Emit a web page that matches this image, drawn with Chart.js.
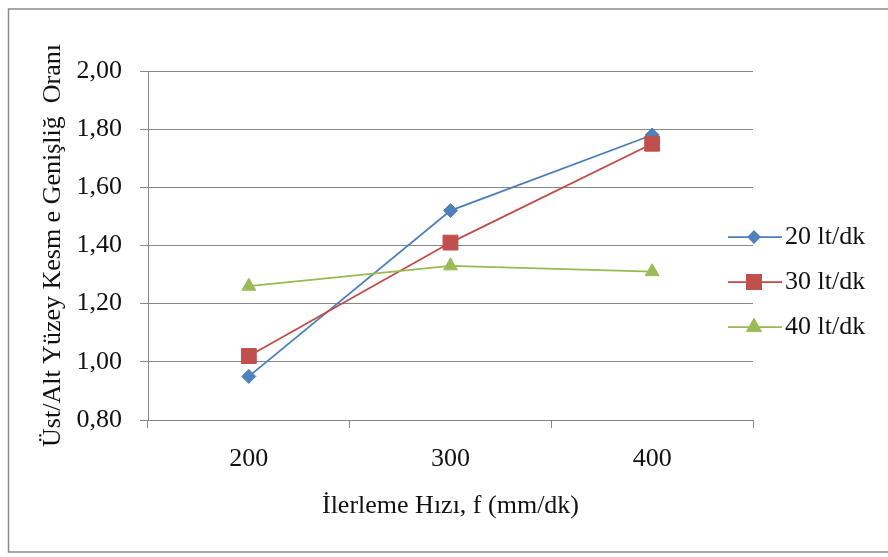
<!DOCTYPE html>
<html>
<head>
<meta charset="utf-8">
<script src="https://cdn.jsdelivr.net/npm/chart.js@4/dist/chart.umd.min.js"></script>
<style>
  html, body { margin: 0; padding: 0; background: #ffffff; }
  #wrap { width: 888px; height: 557px; }
</style>
</head>
<body>
<div id="wrap"><canvas id="c" width="888" height="557"></canvas></div>
<script>
// Feed rate categories (mm/dk)
const feedRates = ['200', '300', '400'];

// Top/bottom kerf width ratio per coolant flow
const flow20 = [0.95, 1.52, 1.78];
const flow30 = [1.02, 1.41, 1.75];
const flow40 = [1.26, 1.33, 1.31];

const seriesNames = ['20 lt/dk', '30 lt/dk', '40 lt/dk'];
const yTickLabels = ['0,80', '1,00', '1,20', '1,40', '1,60', '1,80', '2,00'];

const xTitle = 'İlerleme Hızı, f (mm/dk)';
const yTitle = 'Üst/Alt Yüzey Kesm e Genişliğ  Oranı';

const FONT = "'Liberation Serif', 'Times New Roman', serif";
const GRID = '#878787';

const styles = [
  { line: '#4A7EBB', fill: '#4F81BD', shape: 'rectRot', r: 7 },
  { line: '#BE4B48', fill: '#C0504D', shape: 'rect', r: 10.5 },
  { line: '#98B954', fill: '#9BBB59', shape: 'triangle', r: 8 }
];

const values = [flow20, flow30, flow40];

const datasets = values.map((v, i) => ({
  label: seriesNames[i],
  data: v,
  borderColor: styles[i].line,
  backgroundColor: styles[i].fill,
  pointBackgroundColor: styles[i].fill,
  pointBorderColor: styles[i].fill,
  pointBorderWidth: 1,
  pointStyle: styles[i].shape,
  pointRadius: styles[i].r,
  pointHoverRadius: styles[i].r,
  borderWidth: 1.75,
  tension: 0,
  fill: false,
  order: 3 - i
}));

// White page, frame around the chart and the side legend
const decor = {
  id: 'decor',
  beforeDraw(chart) {
    const ctx = chart.ctx;
    ctx.save();
    ctx.fillStyle = '#ffffff';
    ctx.fillRect(0, 0, chart.width, chart.height);
    ctx.strokeStyle = '#8a8a8a';
    ctx.lineWidth = 1.5;
    ctx.strokeRect(8.5, 9, 900, 543);
    ctx.restore();
  },
  afterDraw(chart) {
    const ctx = chart.ctx;
    ctx.save();
    chart.data.datasets.forEach((ds, i) => {
      const y = 237 + 45 * i;
      ctx.strokeStyle = ds.borderColor;
      ctx.lineWidth = 1.75;
      ctx.beginPath();
      ctx.moveTo(728, y);
      ctx.lineTo(782, y);
      ctx.stroke();
      const r = i === 0 ? 5.5 : (i === 1 ? 10 : 7.5);
      Chart.helpers.drawPoint(ctx, {
        pointStyle: ds.pointStyle,
        radius: r,
        borderWidth: 1
      }, 754, y);
      ctx.fillStyle = ds.pointBackgroundColor;
      ctx.strokeStyle = ds.pointBorderColor;
      ctx.beginPath();
      Chart.helpers.drawPoint(ctx, { pointStyle: ds.pointStyle, radius: r, borderWidth: 1 }, 754, y);
      ctx.fillStyle = '#111111';
      ctx.font = '26px ' + FONT;
      ctx.textBaseline = 'alphabetic';
      ctx.textAlign = 'left';
      ctx.fillText(ds.label, 785, y + 7);
    });
    ctx.restore();
  }
};

new Chart(document.getElementById('c'), {
  type: 'line',
  data: { labels: feedRates, datasets },
  plugins: [decor],
  options: {
    responsive: false,
    animation: false,
    events: [],
    layout: { padding: { left: 30, right: 135, top: 71, bottom: 0 } },
    plugins: {
      legend: { display: false },
      tooltip: { enabled: false },
      title: { display: false }
    },
    scales: {
      x: {
        type: 'category',
        offset: true,
        afterFit(scale) { scale.height = 137; },
        border: { display: true, color: GRID, width: 1 },
        grid: {
          offset: true,
          drawOnChartArea: false,
          drawTicks: true,
          tickLength: 8,
          color: GRID
        },
        ticks: {
          color: '#111111',
          font: { family: FONT, size: 26 },
          padding: 16,
          maxRotation: 0
        },
        title: {
          display: true,
          text: xTitle,
          color: '#111111',
          font: { family: FONT, size: 26 },
          padding: { top: 0, bottom: 35 }
        }
      },
      y: {
        min: 0.8,
        max: 2.0,
        afterFit(scale) { scale.width = 118; },
        afterBuildTicks(scale) {
          scale.ticks = yTickLabels.map((t, i) => ({ value: 0.8 + 0.2 * i }));
        },
        border: { display: true, color: GRID, width: 1 },
        grid: {
          color: GRID,
          lineWidth: 1,
          drawTicks: true,
          tickLength: 8
        },
        ticks: {
          color: '#111111',
          font: { family: FONT, size: 26 },
          padding: 18,
          callback: (v, i) => yTickLabels[i]
        },
        title: {
          display: true,
          text: yTitle,
          color: '#111111',
          font: { family: FONT, size: 26 },
          padding: { top: 8, bottom: 0 }
        }
      }
    }
  }
});
</script>
</body>
</html>
